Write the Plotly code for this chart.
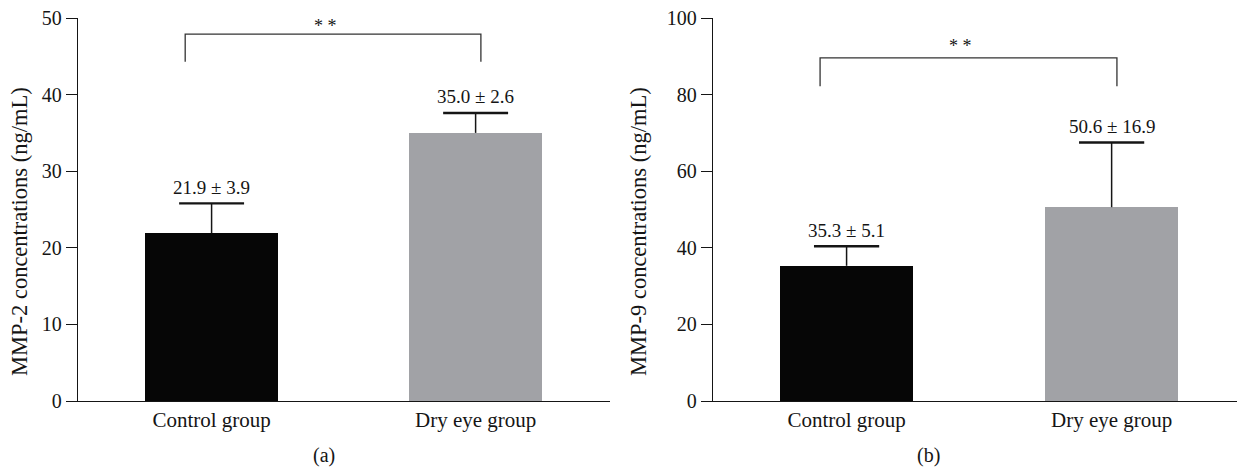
import plotly.graph_objects as go

categories = ["Control group", "Dry eye group"]
mmp2_mean = [21.9, 35.0]
mmp2_sd = [3.9, 2.6]
mmp9_mean = [35.3, 50.6]
mmp9_sd = [5.1, 16.9]
bar_colors = ["#060606", "#a1a2a6"]
panel_labels = ["(a)", "(b)"]
y_titles = ["MMP-2 concentrations (ng/mL)", "MMP-9 concentrations (ng/mL)"]
y_ranges = [[0, 50], [0, 100]]
y_dticks = [10, 20]
bracket_y = [[44.3, 47.9], [82.2, 89.6]]
sig_text = "* *"

FONT = "Liberation Serif"
W, H = 1239, 470
INK = "#151515"
CAP_HALF = 0.123  # half cap width in category units

fig = go.Figure()

panels = [
    dict(mean=mmp2_mean, sd=mmp2_sd, xa="x", ya="y", xdom=[78 / W, 610 / W], xr=[-0.506, 1.509],
         title_x=19 / W, star_shift=10),
    dict(mean=mmp9_mean, sd=mmp9_sd, xa="x2", ya="y2", xdom=[713 / W, 1237 / W], xr=[-0.504, 1.473],
         title_x=638 / W, star_shift=14),
]
ydom = [1 - 401 / H, 1 - 18 / H]

for i, p in enumerate(panels):
    xs = [0, 1]
    fig.add_trace(go.Bar(
        x=xs, y=p["mean"], width=0.504,
        marker=dict(color=bar_colors, line=dict(width=0)),
        xaxis=p["xa"], yaxis=p["ya"], showlegend=False, hoverinfo="skip",
    ))
    # one-sided error bars (upper only) built from mean and sd
    vx, vy, cx, cy = [], [], [], []
    for j in range(2):
        top = p["mean"][j] + p["sd"][j]
        vx += [xs[j], xs[j], None]
        vy += [p["mean"][j], top, None]
        cx += [xs[j] - CAP_HALF, xs[j] + CAP_HALF, None]
        cy += [top, top, None]
    fig.add_trace(go.Scatter(x=vx, y=vy, mode="lines", line=dict(color=INK, width=1.5),
                             xaxis=p["xa"], yaxis=p["ya"], showlegend=False, hoverinfo="skip"))
    fig.add_trace(go.Scatter(x=cx, y=cy, mode="lines", line=dict(color=INK, width=2.4),
                             xaxis=p["xa"], yaxis=p["ya"], showlegend=False, hoverinfo="skip"))
    sfx = "" if i == 0 else "2"
    fig.update_layout(**{
        "xaxis" + sfx: dict(domain=p["xdom"], range=p["xr"], anchor="y" + sfx, automargin=False,
                            tickvals=[0, 1], ticktext=categories, ticks="", showline=True,
                            linecolor=INK, linewidth=1.3, showgrid=False, zeroline=False,
                            tickfont=dict(family=FONT, size=21, color=INK)),
        "yaxis" + sfx: dict(domain=ydom, range=y_ranges[i], dtick=y_dticks[i], anchor="x" + sfx,
                            automargin=False,
                            ticks="outside", ticklen=11, tickwidth=1.3, tickcolor=INK,
                            showline=True, linecolor=INK, linewidth=1.3, showgrid=False,
                            zeroline=False,
                            tickfont=dict(family=FONT, size=20, color=INK)),
    })
    # y-axis title
    fig.add_annotation(x=p["title_x"], y=1 - 232 / H, xref="paper", yref="paper",
                       text=y_titles[i], textangle=-90, showarrow=False,
                       xanchor="center", yanchor="middle",
                       font=dict(family=FONT, size=22.5, color=INK))
    # value labels
    for j in range(2):
        fig.add_annotation(x=xs[j], y=p["mean"][j] + p["sd"][j], xref=p["xa"], yref=p["ya"],
                           text=f"{p['mean'][j]:.1f} ± {p['sd'][j]:.1f}", showarrow=False,
                           yanchor="middle", yshift=16,
                           font=dict(family=FONT, size=19, color=INK))
    # significance bracket
    lo, hi = bracket_y[i]
    xl, xr_ = -0.1, 1.02
    fig.add_shape(type="path", xref=p["xa"], yref=p["ya"],
                  path=f"M {xl} {lo} L {xl} {hi} L {xr_} {hi} L {xr_} {lo}",
                  line=dict(color="#333", width=1.3))
    fig.add_annotation(x=(xl + xr_) / 2 - 0.03, y=hi, xref=p["xa"], yref=p["ya"], text=sig_text,
                       showarrow=False, yanchor="middle", yshift=p["star_shift"] - 2,
                       font=dict(family=FONT, size=18, color=INK))
    # panel label
    fig.add_annotation(x=(p["xdom"][0] + p["xdom"][1]) / 2 - 0.027, y=1 - 455 / H, xref="paper",
                       yref="paper", text=panel_labels[i], showarrow=False, yanchor="middle",
                       font=dict(family=FONT, size=20, color=INK))

fig.update_layout(width=W, height=H, margin=dict(l=0, r=0, t=0, b=0),
                  plot_bgcolor="white", paper_bgcolor="white", bargap=0)

fig.write_html("out.html", config={"displayModeBar": False},
               post_script="document.body.style.margin='0';document.body.style.overflow='hidden';")
